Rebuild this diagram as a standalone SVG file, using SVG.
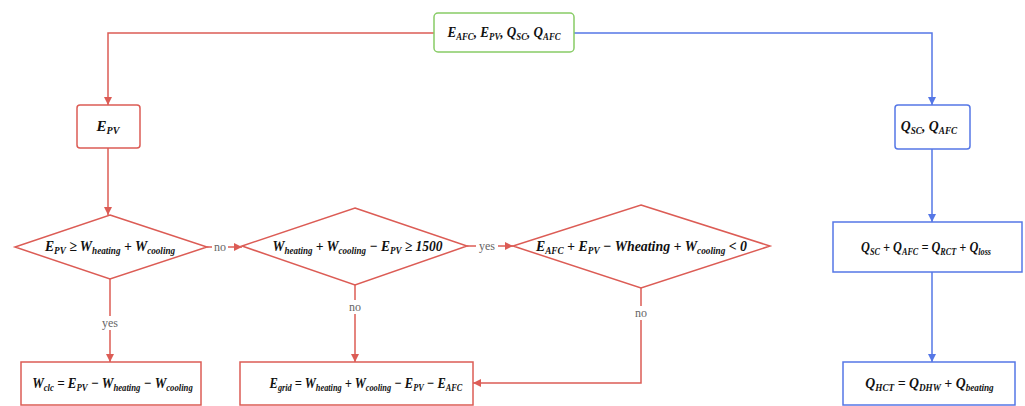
<svg xmlns="http://www.w3.org/2000/svg" width="1025" height="406" viewBox="0 0 1025 406">
<style>
.r{fill:#fff;stroke:#dc5c55;stroke-width:1.5}
.b{fill:#fff;stroke:#5577e6;stroke-width:1.5}
.g{fill:#fff;stroke:#88cc66;stroke-width:1.5}
.lr{fill:none;stroke:#dc5c55;stroke-width:1.5}
.lb{fill:none;stroke:#5577e6;stroke-width:1.5}
.t{font-family:"Liberation Serif","Times New Roman",serif;font-weight:bold;font-style:italic;font-size:15px;fill:#111;text-anchor:middle}
.s{font-size:10px}
.lbl{font-family:"Liberation Serif","Times New Roman",serif;font-size:12px;fill:#666;text-anchor:middle}
</style>
<defs>
<marker id="ar" viewBox="0 0 10 10" refX="10" refY="5" markerWidth="8" markerHeight="8" markerUnits="userSpaceOnUse" orient="auto"><path d="M0,0L10,5L0,10z" fill="#dc5c55"/></marker>
<marker id="ab" viewBox="0 0 10 10" refX="10" refY="5" markerWidth="8" markerHeight="8" markerUnits="userSpaceOnUse" orient="auto"><path d="M0,0L10,5L0,10z" fill="#5577e6"/></marker>
</defs>
<g id="connectors">
<path class="lr" d="M434,33H108V105" marker-end="url(#ar)"/>
<path class="lb" d="M574,33H932V105" marker-end="url(#ab)"/>
<path class="lr" d="M108,148V215" marker-end="url(#ar)"/>
<path class="lr" d="M110,279V362" marker-end="url(#ar)"/>
<path class="lr" d="M207,247H242" marker-end="url(#ar)"/>
<path class="lr" d="M467,246H513" marker-end="url(#ar)"/>
<path class="lr" d="M355,285V362" marker-end="url(#ar)"/>
<path class="lr" d="M641,288V383H473" marker-end="url(#ar)"/>
<path class="lb" d="M932,149V222" marker-end="url(#ab)"/>
<path class="lb" d="M932,272V362" marker-end="url(#ab)"/>
<rect x="99" y="316" width="22" height="14" fill="#fff"/>
<text class="lbl" x="110" y="327">yes</text>
<rect x="212" y="240" width="16" height="14" fill="#fff"/>
<text class="lbl" x="220" y="251">no</text>
<rect x="476" y="239" width="22" height="14" fill="#fff"/>
<text class="lbl" x="487" y="250">yes</text>
<rect x="347" y="300" width="16" height="14" fill="#fff"/>
<text class="lbl" x="355" y="311">no</text>
<rect x="633" y="306" width="16" height="14" fill="#fff"/>
<text class="lbl" x="641" y="317">no</text>
</g>
<g id="n-top">
<rect class="g" x="434" y="13" width="140" height="39" rx="4"/>
<text class="t" x="504" y="37" transform="matrix(0.876,0,0,1,62.5,0)">E<tspan class="s" dy="3">AFC</tspan><tspan dy="-3">, E</tspan><tspan class="s" dy="3">PV</tspan><tspan dy="-3">, Q</tspan><tspan class="s" dy="3">SC</tspan><tspan dy="-3">, Q</tspan><tspan class="s" dy="3">AFC</tspan></text>
</g>
<g id="n-epv">
<rect class="r" x="77" y="105" width="63" height="43" rx="3"/>
<text class="t" x="108" y="131">E<tspan class="s" dy="3">PV</tspan></text>
</g>
<g id="n-qsc">
<rect class="b" x="895" y="105" width="75" height="44" rx="3"/>
<text class="t" x="929" y="131" transform="matrix(0.92,0,0,1,74.3,0)">Q<tspan class="s" dy="3">SC</tspan><tspan dy="-3">, Q</tspan><tspan class="s" dy="3">AFC</tspan></text>
</g>
<g id="n-d1">
<polygon class="r" points="110,215 207,247 110,279 15,247"/>
<text class="t" x="110" y="251" transform="matrix(0.915,0,0,1,9.35,0)">E<tspan class="s" dy="3">PV</tspan><tspan dy="-3"> ≥ W</tspan><tspan class="s" dy="3">heating</tspan><tspan dy="-3"> + W</tspan><tspan class="s" dy="3">cooling</tspan></text>
</g>
<g id="n-d2">
<polygon class="r" points="355,208 467,246 355,285 242,246"/>
<text class="t" x="357.5" y="251" transform="matrix(0.9,0,0,1,35.75,0)">W<tspan class="s" dy="3">heating</tspan><tspan dy="-3"> + W</tspan><tspan class="s" dy="3">cooling</tspan><tspan dy="-3"> − E</tspan><tspan class="s" dy="3">PV</tspan><tspan dy="-3"> ≥ 1500</tspan></text>
</g>
<g id="n-d3">
<polygon class="r" points="641,205 770,246 641,288 513,246"/>
<text class="t" x="641.5" y="251" transform="matrix(0.925,0,0,1,48.1,0)">E<tspan class="s" dy="3">AFC</tspan><tspan dy="-3"> + E</tspan><tspan class="s" dy="3">PV</tspan><tspan dy="-3"> − Wheating + W</tspan><tspan class="s" dy="3">cooling</tspan><tspan dy="-3"> &lt; 0</tspan></text>
</g>
<g id="n-wclc">
<rect class="r" x="21" y="362" width="180" height="43"/>
<text class="t" x="112.5" y="388" transform="matrix(0.87,0,0,1,14.6,0)">W<tspan class="s" dy="3">clc</tspan><tspan dy="-3"> = E</tspan><tspan class="s" dy="3">PV</tspan><tspan dy="-3"> − W</tspan><tspan class="s" dy="3">heating</tspan><tspan dy="-3"> − W</tspan><tspan class="s" dy="3">cooling</tspan></text>
</g>
<g id="n-egrid">
<rect class="r" x="240" y="362" width="233" height="43"/>
<text class="t" x="366" y="388" transform="matrix(0.83,0,0,1,62.2,0)">E<tspan class="s" dy="3">grid</tspan><tspan dy="-3"> = W</tspan><tspan class="s" dy="3">heating</tspan><tspan dy="-3"> + W</tspan><tspan class="s" dy="3">cooling</tspan><tspan dy="-3"> − E</tspan><tspan class="s" dy="3">PV</tspan><tspan dy="-3"> − E</tspan><tspan class="s" dy="3">AFC</tspan></text>
</g>
<g id="n-qbal">
<rect class="b" x="833" y="222" width="189" height="50"/>
<text class="t" x="926" y="252" transform="matrix(0.82,0,0,1,166.7,0)">Q<tspan class="s" dy="3">SC</tspan><tspan dy="-3"> + Q</tspan><tspan class="s" dy="3">AFC</tspan><tspan dy="-3"> = Q</tspan><tspan class="s" dy="3">RCT</tspan><tspan dy="-3"> + Q</tspan><tspan class="s" dy="3">loss</tspan></text>
</g>
<g id="n-qhct">
<rect class="b" x="843" y="362" width="172" height="43"/>
<text class="t" x="929.5" y="388" transform="matrix(0.92,0,0,1,74.4,0)">Q<tspan class="s" dy="3">HCT</tspan><tspan dy="-3"> = Q</tspan><tspan class="s" dy="3">DHW</tspan><tspan dy="-3"> + Q</tspan><tspan class="s" dy="3">beating</tspan></text>
</g>
</svg>
